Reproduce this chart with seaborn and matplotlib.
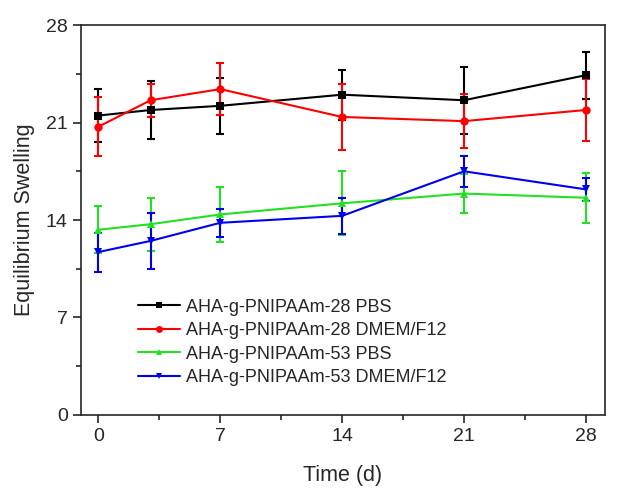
import numpy as np
import pandas as pd
import matplotlib
matplotlib.use("Agg")
import matplotlib.pyplot as plt
import seaborn as sns
from matplotlib.ticker import MultipleLocator
from matplotlib.lines import Line2D

days = [0, 3, 7, 14, 21, 28]
labels = ["AHA-g-PNIPAAm-28 PBS", "AHA-g-PNIPAAm-28 DMEM/F12",
          "AHA-g-PNIPAAm-53 PBS", "AHA-g-PNIPAAm-53 DMEM/F12"]
pbs28 = [21.5, 21.9, 22.2, 23.0, 22.6, 24.4]
pbs28_err = [1.9, 2.1, 2.0, 1.8, 2.4, 1.7]
dmem28 = [20.7, 22.6, 23.4, 21.4, 21.1, 21.9]
dmem28_err = [2.1, 1.2, 1.85, 2.4, 1.95, 2.2]
pbs53 = [13.3, 13.7, 14.4, 15.2, 15.9, 15.6]
pbs53_err = [1.7, 1.9, 2.0, 2.3, 1.4, 1.8]
dmem53 = [11.7, 12.5, 13.8, 14.3, 17.5, 16.2]
dmem53_err = [1.4, 2.0, 1.0, 1.3, 1.1, 0.8]

series = [pbs28, dmem28, pbs53, dmem53]
errs = [pbs28_err, dmem28_err, pbs53_err, dmem53_err]
colors = ["#000000", "#ff0000", "#22e022", "#0000ee"]
markers = ["s", "o", "^", "v"]

sns.set_style("ticks")
plt.rcParams['font.family'] = ['Liberation Sans', 'DejaVu Sans']

df = pd.DataFrame({
    "day": days * 4,
    "val": pbs28 + dmem28 + pbs53 + dmem53,
    "series": sum([[l] * len(days) for l in labels], []),
})

fig = plt.figure(figsize=(6.18, 4.98), dpi=100)
ax = fig.add_axes([0.131, 0.1667, 0.848, 0.783])

for s, e, c in zip(series, errs, colors):
    ax.errorbar(days, s, yerr=e, fmt="none", ecolor=c, elinewidth=1.5,
                capsize=3, capthick=1.5, zorder=2)

sns.lineplot(data=df, x="day", y="val", hue="series", style="series",
             palette=dict(zip(labels, colors)),
             markers=dict(zip(labels, markers)), dashes=False,
             markersize=6, linewidth=1.5, markeredgewidth=0, ax=ax, zorder=3,
             legend=False)

ax.set_xlim(-1, 29.1)
ax.set_ylim(0, 28)
ax.xaxis.set_major_locator(MultipleLocator(7))
ax.xaxis.set_minor_locator(MultipleLocator(3.5))
ax.yaxis.set_major_locator(MultipleLocator(7))
ax.yaxis.set_minor_locator(MultipleLocator(3.5))
ax.tick_params(axis="both", which="major", direction="out", length=6, width=1.2,
               labelsize=14, top=False, right=False)
ax.tick_params(axis="both", which="minor", direction="out", length=3.5, width=1.2,
               top=False, right=False)
for sp in ax.spines.values():
    sp.set_linewidth(1.2)
    sp.set_visible(True)

ax.set_xlabel("Time (d)", fontsize=15.5, labelpad=14)
ax.set_ylabel("Equilibrium Swelling", fontsize=15.5, labelpad=8)

handles = [Line2D([], [], color=c, marker=m, markersize=5, markeredgewidth=0,
                  linewidth=1.5) for c, m in zip(colors, markers)]
leg = ax.legend(handles, labels, loc="upper left", bbox_to_anchor=(0.109, 0.298),
                frameon=False, fontsize=13, handlelength=2.33, handletextpad=0.3,
                labelspacing=0.36, borderaxespad=0, borderpad=0)

fig.savefig("out.png", dpi=100)
